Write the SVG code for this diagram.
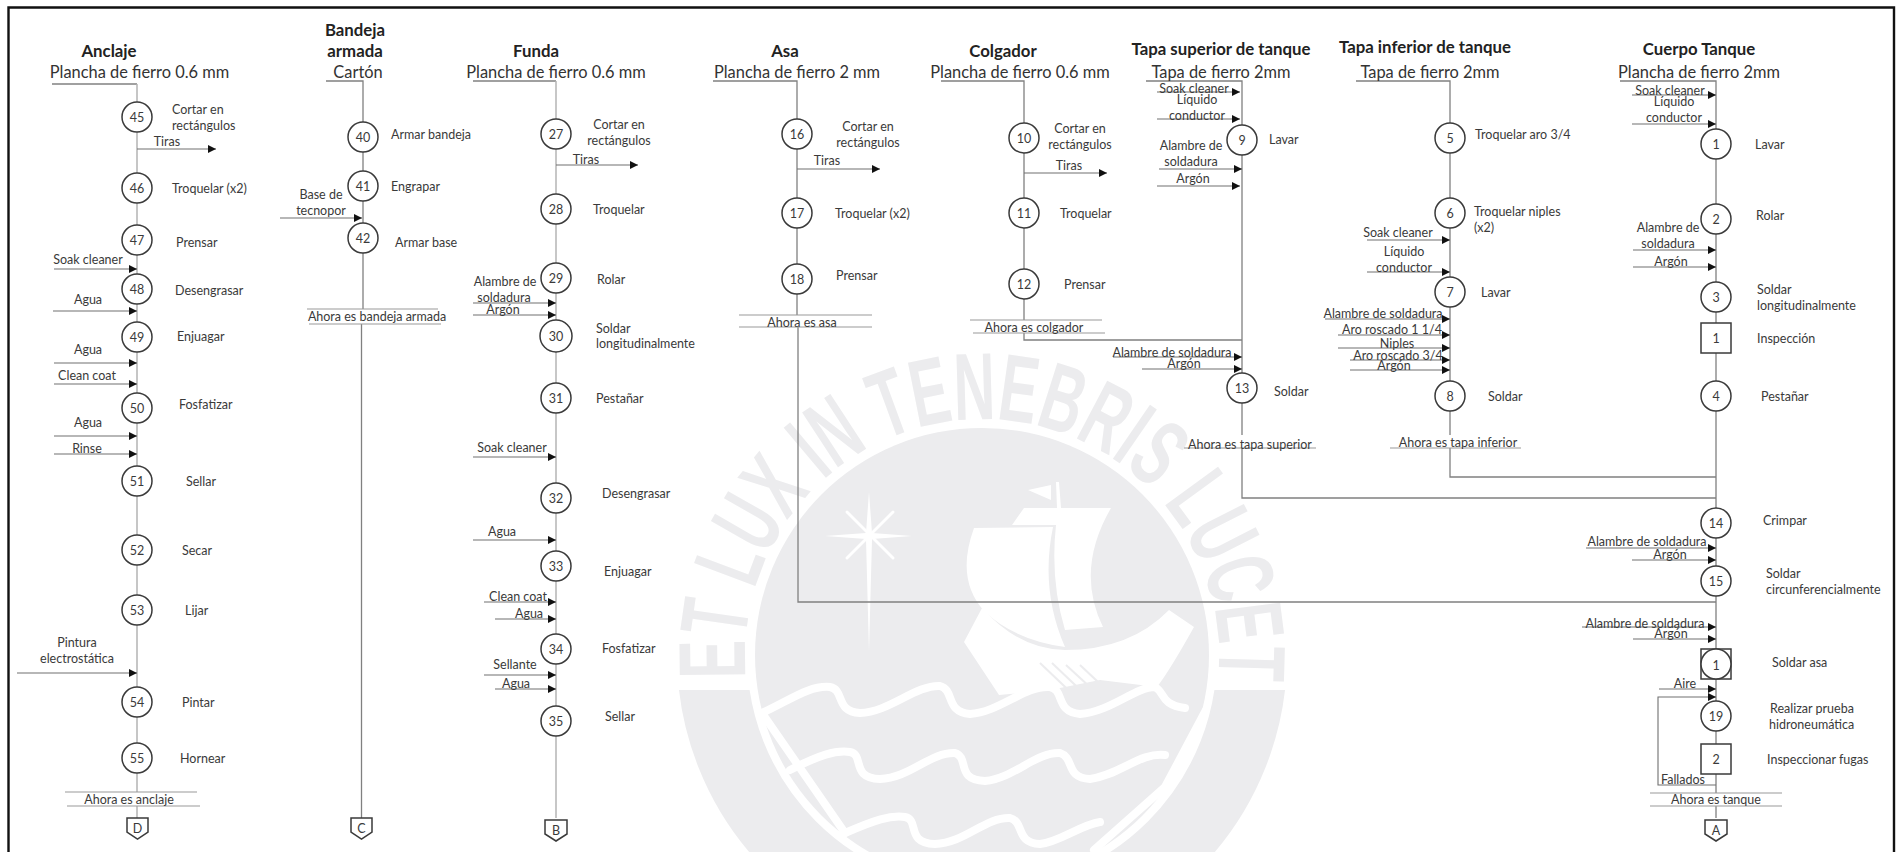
<svg xmlns="http://www.w3.org/2000/svg" width="1902" height="852" viewBox="0 0 1902 852">
<style>
text{font-family:Lato,"Liberation Sans",sans-serif;fill:#3a3a3a;font-size:12.5px;dominant-baseline:central}
.m{text-anchor:middle}
.c{text-anchor:middle;font-size:12.5px}
.t{text-anchor:middle;font-weight:700;font-size:16.8px;fill:#222}
.s{text-anchor:middle;font-size:16.4px;fill:#333}
.z{fill:none;stroke:#808080;stroke-width:1.3}
.y{fill:none;stroke:#b4b4b4;stroke-width:1.5}
.a{fill:none;stroke:#707070;stroke-width:1.1;marker-end:url(#ah)}
.b{fill:none;stroke:#999;stroke-width:1}
.r{fill:#fff;stroke:#3a3a3a;stroke-width:1.5}
.w{fill:#ececee;stroke:none}
.wl{fill:none;stroke:#fff;stroke-width:8;stroke-linecap:round;stroke-linejoin:round}
.wt{font-family:"Liberation Sans",sans-serif;font-weight:700;font-size:95px;fill:#ececee;dominant-baseline:auto}
</style>
<defs>
<marker id="ah" markerUnits="userSpaceOnUse" markerWidth="9" markerHeight="9" refX="8" refY="4" orient="auto"><path d="M0 0L8 4L0 8Z" fill="#111"/></marker>
<clipPath id="cb"><rect x="600" y="690" width="800" height="170"/></clipPath>
<path id="arc" d="M746 678A237 237 0 1 1 1218 678"/>
</defs>
<rect width="1902" height="852" fill="#fff"/>
<g id="watermark">
<circle class="w" cx="982" cy="655" r="227"/>
<circle cx="982" cy="655" r="270" fill="none" stroke="#ececee" stroke-width="70" clip-path="url(#cb)"/>
<text class="wt"><textPath href="#arc" textLength="790" lengthAdjust="spacingAndGlyphs">ET LUX IN TENEBRIS LUCET</textPath></text>
<path fill="#fff" d="M869 492L872 533L912 536L872 539L869 652L866 539L825 536L866 533Z"/>
<path class="wl" style="stroke-width:3" d="M847 512L893 558M893 512L847 558"/>
<path fill="#fff" d="M1024 508L1111 508Q1075 570 1103 627L1065 630Q1050 580 1056 525L1012 525Z"/>
<path fill="#fff" d="M974 528L1053 527Q1040 590 1065 647Q1015 640 985 612Q955 580 974 528Z"/>
<path fill="#fff" d="M964 642L982 608Q1020 650 1065 650Q1130 650 1169 610L1194 627Q1170 670 1157 687L1100 680L1050 690L999 695Z"/>
<path fill="#fff" d="M1028 490L1051 485L1051 500ZM1056 482L1059 482L1061 508L1057 508Z"/>
<path d="M1040 663L1082 703M1052 663L1094 703M1066 665L1104 700M1080 665L1114 697" fill="none" stroke="#ececee" stroke-width="2"/>
<path class="wl" d="M762 713C790 700 810 685 830 687C845 690 835 712 860 713C890 712 915 685 940 686C955 690 945 712 970 714C1000 712 1025 685 1050 687C1065 690 1055 712 1080 714C1110 712 1135 687 1155 687C1165 692 1160 705 1185 708"/>
<path class="wl" d="M790 770C820 755 835 750 850 752C865 755 850 778 880 779C910 778 930 752 955 753C970 758 955 780 985 781C1015 778 1035 752 1060 753C1075 758 1065 778 1090 779C1120 775 1140 752 1165 755"/>
<path class="wl" d="M845 833C875 820 890 815 905 817C920 820 905 843 935 844C965 843 985 817 1010 818C1025 822 1015 843 1040 844C1060 842 1080 825 1100 822"/>
<path class="wl" d="M762 713L845 833M1206 710L1165 787L1094 850"/>
</g>
<path d="M8.5 852V7.5H1894V852" fill="none" stroke="#111" stroke-width="2.4"/>
<g id="connectors">
<path class="z" d="M52 84H137"/><path class="y" d="M137 84V792M137 806V818"/>
<path class="z" d="M326 81H363V309M361.500 324V818"/>
<path class="z" d="M473 81H556"/><path class="y" d="M556 81V818"/>
<path class="z" d="M713 81H797V315M798 327V602H1716"/>
<path class="z" d="M941 81H1024V320M1024 333V340H1242"/>
<path class="z" d="M1146 81H1242V435M1242 448V498H1716"/>
<path class="z" d="M1356 81H1450V435M1450 448V477H1716"/>
<path class="z" d="M1620 81H1716V793M1716 806V818"/>
<path class="b" d="M65 792H197M67 806H200M307 309H438M309 324H441M739 315H872M739 327H872M970 320H1102M973 333H1105M1184 448H1316M1390 448H1521M1650 793H1782M1650 806H1782"/>
<path class="a" d="M137 149H216"/><path class="a" d="M54 269H137"/><path class="a" d="M53 311H137"/><path class="a" d="M54 363H137"/><path class="a" d="M54 384H137"/><path class="a" d="M54 436H137"/><path class="a" d="M54 454H137"/><path class="a" d="M17 673H137"/>
<path class="a" d="M280 218H362"/>
<path class="a" d="M556 165H638"/><path class="a" d="M473 303H556"/><path class="a" d="M473 315H556"/><path class="a" d="M473 457H556"/><path class="a" d="M473 540H556"/><path class="a" d="M484 602H556"/><path class="a" d="M495 619H556"/><path class="a" d="M484 675H556"/><path class="a" d="M495 689H556"/>
<path class="a" d="M797 169H880"/><path class="a" d="M1024 173H1107"/>
<path class="a" d="M1157 92H1240"/><path class="a" d="M1157 119H1240"/><path class="a" d="M1159 169H1242"/><path class="a" d="M1157 186H1240"/><path class="a" d="M1113 357H1242"/><path class="a" d="M1142 369H1242"/>
<path class="a" d="M1367 240H1450"/><path class="a" d="M1367 272H1450"/><path class="a" d="M1325 319H1450"/><path class="a" d="M1338 335H1450"/><path class="a" d="M1338 348H1450"/><path class="a" d="M1350 360H1450"/><path class="a" d="M1350 370H1450"/>
<path class="a" d="M1632 95H1716"/><path class="a" d="M1632 124H1716"/><path class="a" d="M1633 250H1716"/><path class="a" d="M1633 267H1716"/><path class="a" d="M1586 548H1716"/><path class="a" d="M1632 560H1716"/><path class="a" d="M1582 627H1716"/><path class="a" d="M1633 639H1716"/><path class="a" d="M1659 689H1716"/><path class="a" d="M1716 785H1658V697H1716"/>
</g>
<g id="n45"><circle class="r" cx="137" cy="117" r="15"/><text class="c" x="137" y="117">45</text><text x="172" y="109">Cortar en</text><text x="172" y="125">rectángulos</text></g>
<g id="n46"><circle class="r" cx="137" cy="188" r="15"/><text class="c" x="137" y="188">46</text><text x="172" y="188">Troquelar (x2)</text></g>
<g id="n47"><circle class="r" cx="137" cy="240" r="15"/><text class="c" x="137" y="240">47</text><text x="176" y="242">Prensar</text></g>
<g id="n48"><circle class="r" cx="137" cy="289" r="15"/><text class="c" x="137" y="289">48</text><text x="175" y="290">Desengrasar</text></g>
<g id="n49"><circle class="r" cx="137" cy="337" r="15"/><text class="c" x="137" y="337">49</text><text x="177" y="336">Enjuagar</text></g>
<g id="n50"><circle class="r" cx="137" cy="408" r="15"/><text class="c" x="137" y="408">50</text><text x="179" y="404">Fosfatizar</text></g>
<g id="n51"><circle class="r" cx="137" cy="481" r="15"/><text class="c" x="137" y="481">51</text><text x="186" y="481">Sellar</text></g>
<g id="n52"><circle class="r" cx="137" cy="550" r="15"/><text class="c" x="137" y="550">52</text><text x="182" y="550">Secar</text></g>
<g id="n53"><circle class="r" cx="137" cy="610" r="15"/><text class="c" x="137" y="610">53</text><text x="185" y="610">Lijar</text></g>
<g id="n54"><circle class="r" cx="137" cy="702" r="15"/><text class="c" x="137" y="702">54</text><text x="182" y="702">Pintar</text></g>
<g id="n55"><circle class="r" cx="137" cy="758" r="15"/><text class="c" x="137" y="758">55</text><text x="180" y="758">Hornear</text></g>
<g id="n40"><circle class="r" cx="363" cy="137" r="15"/><text class="c" x="363" y="137">40</text><text x="391" y="134">Armar bandeja</text></g>
<g id="n41"><circle class="r" cx="363" cy="186" r="15"/><text class="c" x="363" y="186">41</text><text x="391" y="186">Engrapar</text></g>
<g id="n42"><circle class="r" cx="363" cy="238" r="15"/><text class="c" x="363" y="238">42</text><text x="395" y="242">Armar base</text></g>
<g id="n27"><circle class="r" cx="556" cy="134" r="15"/><text class="c" x="556" y="134">27</text><text class="m" x="619" y="124">Cortar en</text><text class="m" x="619" y="140">rectángulos</text></g>
<g id="n28"><circle class="r" cx="556" cy="209" r="15"/><text class="c" x="556" y="209">28</text><text x="593" y="209">Troquelar</text></g>
<g id="n29"><circle class="r" cx="556" cy="278" r="15"/><text class="c" x="556" y="278">29</text><text x="597" y="279">Rolar</text></g>
<g id="n30"><circle class="r" cx="556" cy="336" r="16"/><text class="c" x="556" y="336">30</text><text x="596" y="328">Soldar</text><text x="596" y="343">longitudinalmente</text></g>
<g id="n31"><circle class="r" cx="556" cy="398" r="15"/><text class="c" x="556" y="398">31</text><text x="596" y="398">Pestañar</text></g>
<g id="n32"><circle class="r" cx="556" cy="498" r="15"/><text class="c" x="556" y="498">32</text><text x="602" y="493">Desengrasar</text></g>
<g id="n33"><circle class="r" cx="556" cy="566" r="15"/><text class="c" x="556" y="566">33</text><text x="604" y="571">Enjuagar</text></g>
<g id="n34"><circle class="r" cx="556" cy="649" r="15"/><text class="c" x="556" y="649">34</text><text x="602" y="648">Fosfatizar</text></g>
<g id="n35"><circle class="r" cx="556" cy="721" r="15"/><text class="c" x="556" y="721">35</text><text x="605" y="716">Sellar</text></g>
<g id="n16"><circle class="r" cx="797" cy="134" r="15"/><text class="c" x="797" y="134">16</text><text class="m" x="868" y="126">Cortar en</text><text class="m" x="868" y="142">rectángulos</text></g>
<g id="n17"><circle class="r" cx="797" cy="213" r="15"/><text class="c" x="797" y="213">17</text><text x="835" y="213">Troquelar (x2)</text></g>
<g id="n18"><circle class="r" cx="797" cy="279" r="15"/><text class="c" x="797" y="279">18</text><text x="836" y="275">Prensar</text></g>
<g id="n10"><circle class="r" cx="1024" cy="138" r="15"/><text class="c" x="1024" y="138">10</text><text class="m" x="1080" y="128">Cortar en</text><text class="m" x="1080" y="144">rectángulos</text></g>
<g id="n11"><circle class="r" cx="1024" cy="213" r="15"/><text class="c" x="1024" y="213">11</text><text x="1060" y="213">Troquelar</text></g>
<g id="n12"><circle class="r" cx="1024" cy="284" r="15"/><text class="c" x="1024" y="284">12</text><text x="1064" y="284">Prensar</text></g>
<g id="n9"><circle class="r" cx="1242" cy="140" r="15"/><text class="c" x="1242" y="140">9</text><text x="1269" y="139">Lavar</text></g>
<g id="n13"><circle class="r" cx="1242" cy="388" r="15"/><text class="c" x="1242" y="388">13</text><text x="1274" y="391">Soldar</text></g>
<g id="n5"><circle class="r" cx="1450" cy="138" r="15"/><text class="c" x="1450" y="138">5</text><text x="1475" y="134">Troquelar aro 3/4</text></g>
<g id="n6"><circle class="r" cx="1450" cy="213" r="15"/><text class="c" x="1450" y="213">6</text><text x="1474" y="211">Troquelar niples</text><text x="1474" y="227">(x2)</text></g>
<g id="n7"><circle class="r" cx="1450" cy="292" r="15"/><text class="c" x="1450" y="292">7</text><text x="1481" y="292">Lavar</text></g>
<g id="n8"><circle class="r" cx="1450" cy="396" r="15"/><text class="c" x="1450" y="396">8</text><text x="1488" y="396">Soldar</text></g>
<g id="n1"><circle class="r" cx="1716" cy="144" r="15"/><text class="c" x="1716" y="144">1</text><text x="1755" y="144">Lavar</text></g>
<g id="n2"><circle class="r" cx="1716" cy="219" r="15"/><text class="c" x="1716" y="219">2</text><text x="1756" y="215">Rolar</text></g>
<g id="n3"><circle class="r" cx="1716" cy="297" r="15"/><text class="c" x="1716" y="297">3</text><text x="1757" y="289">Soldar</text><text x="1757" y="305">longitudinalmente</text></g>
<g id="i1"><rect class="r" x="1701" y="323" width="30" height="30"/><text class="c" x="1716" y="338">1</text><text x="1757" y="338">Inspección</text></g>
<g id="n4"><circle class="r" cx="1716" cy="396" r="15"/><text class="c" x="1716" y="396">4</text><text x="1761" y="396">Pestañar</text></g>
<g id="n14"><circle class="r" cx="1716" cy="523" r="15"/><text class="c" x="1716" y="523">14</text><text x="1763" y="520">Crimpar</text></g>
<g id="n15"><circle class="r" cx="1716" cy="581" r="15"/><text class="c" x="1716" y="581">15</text><text x="1766" y="573">Soldar</text><text x="1766" y="589">circunferencialmente</text></g>
<g id="c1"><rect class="r" x="1701" y="649" width="30" height="30"/><circle class="r" cx="1716" cy="664" r="15"/><text class="c" x="1716" y="665">1</text><text x="1772" y="662">Soldar asa</text></g>
<g id="n19"><circle class="r" cx="1716" cy="716" r="15"/><text class="c" x="1716" y="716">19</text><text x="1770" y="708">Realizar prueba</text><text x="1769" y="724">hidroneumática</text></g>
<g id="i2"><rect class="r" x="1701" y="744" width="30" height="30"/><text class="c" x="1716" y="759">2</text><text x="1767" y="759">Inspeccionar fugas</text></g>
<g id="offD"><path class="r" d="M127 818H148V832L137.500 839L127 832Z"/><text class="c" x="137.500" y="828">D</text></g>
<g id="offC"><path class="r" d="M351 818H372V832L361.500 839L351 832Z"/><text class="c" x="361.500" y="828">C</text></g>
<g id="offB"><path class="r" d="M545 820H567V834L556 841L545 834Z"/><text class="c" x="556" y="830">B</text></g>
<g id="offA"><path class="r" d="M1705 820H1727V834L1716 841L1705 834Z"/><text class="c" x="1716" y="830">A</text></g>
<g id="titles">
<text class="t" x="109" y="50">Anclaje</text><text class="s" x="139.500" y="71">Plancha de fierro 0.6 mm</text>
<text class="t" x="355" y="29">Bandeja</text><text class="t" x="355" y="50">armada</text><text class="s" x="358" y="71">Cartón</text>
<text class="t" x="536" y="50">Funda</text><text class="s" x="556" y="71">Plancha de fierro 0.6 mm</text>
<text class="t" x="785" y="50">Asa</text><text class="s" x="797" y="71">Plancha de fierro 2 mm</text>
<text class="t" x="1003" y="50">Colgador</text><text class="s" x="1020" y="71">Plancha de fierro 0.6 mm</text>
<text class="t" x="1221" y="48">Tapa superior de tanque</text><text class="s" x="1221" y="71">Tapa de fierro 2mm</text>
<text class="t" x="1425" y="46">Tapa inferior de tanque</text><text class="s" x="1430" y="71">Tapa de fierro 2mm</text>
<text class="t" x="1699" y="48">Cuerpo Tanque</text><text class="s" x="1699" y="71">Plancha de fierro 2mm</text>
</g>
<g id="labels">
<text class="m" x="167" y="141">Tiras</text><text class="m" x="88" y="259">Soak cleaner</text><text class="m" x="88" y="299">Agua</text><text class="m" x="88" y="349">Agua</text><text class="m" x="87" y="375">Clean coat</text><text class="m" x="88" y="422">Agua</text><text class="m" x="87" y="448">Rinse</text><text class="m" x="77" y="642">Pintura</text><text class="m" x="77" y="658">electrostática</text><text class="m" x="129" y="799">Ahora es anclaje</text>
<text class="m" x="321" y="194">Base de</text><text class="m" x="321" y="210">tecnopor</text><text class="m" x="377" y="316">Ahora es bandeja armada</text>
<text class="m" x="586" y="159">Tiras</text><text class="m" x="505" y="281">Alambre de</text><text class="m" x="504" y="297">soldadura</text><text class="m" x="503" y="309">Argón</text><text class="m" x="512" y="447">Soak cleaner</text><text class="m" x="502" y="531">Agua</text><text class="m" x="518" y="596">Clean coat</text><text class="m" x="529" y="613">Agua</text><text class="m" x="515" y="664">Sellante</text><text class="m" x="516" y="683">Agua</text>
<text class="m" x="827" y="160">Tiras</text><text class="m" x="802" y="322">Ahora es asa</text>
<text class="m" x="1069" y="165">Tiras</text><text class="m" x="1034" y="327">Ahora es colgador</text>
<text class="m" x="1194" y="88">Soak cleaner</text><text class="m" x="1197" y="99">Líquido</text><text class="m" x="1197" y="115">conductor</text><text class="m" x="1191" y="145">Alambre de</text><text class="m" x="1191" y="161">soldadura</text><text class="m" x="1193" y="178">Argón</text><text class="m" x="1172" y="352">Alambre de soldadura</text><text class="m" x="1184" y="363">Argón</text><text class="m" x="1250" y="444">Ahora es tapa superior</text>
<text class="m" x="1398" y="232">Soak cleaner</text><text class="m" x="1404" y="251">Líquido</text><text class="m" x="1404" y="267">conductor</text><text class="m" x="1383" y="313">Alambre de soldadura</text><text class="m" x="1392" y="329">Aro roscado 1 1/4</text><text class="m" x="1397" y="343">Niples</text><text class="m" x="1398" y="355">Aro roscado 3/4</text><text class="m" x="1394" y="365">Argón</text><text class="m" x="1458" y="442">Ahora es tapa inferior</text>
<text class="m" x="1670" y="90">Soak cleaner</text><text class="m" x="1674" y="101">Líquido</text><text class="m" x="1674" y="117">conductor</text><text class="m" x="1668" y="227">Alambre de</text><text class="m" x="1668" y="243">soldadura</text><text class="m" x="1671" y="261">Argón</text><text class="m" x="1647" y="541">Alambre de soldadura</text><text class="m" x="1670" y="554">Argón</text><text class="m" x="1645" y="623">Alambre de soldadura</text><text class="m" x="1671" y="633">Argón</text><text class="m" x="1685" y="683">Aire</text><text class="m" x="1683" y="779">Fallados</text><text class="m" x="1716" y="799">Ahora es tanque</text>
</g>
</svg>
